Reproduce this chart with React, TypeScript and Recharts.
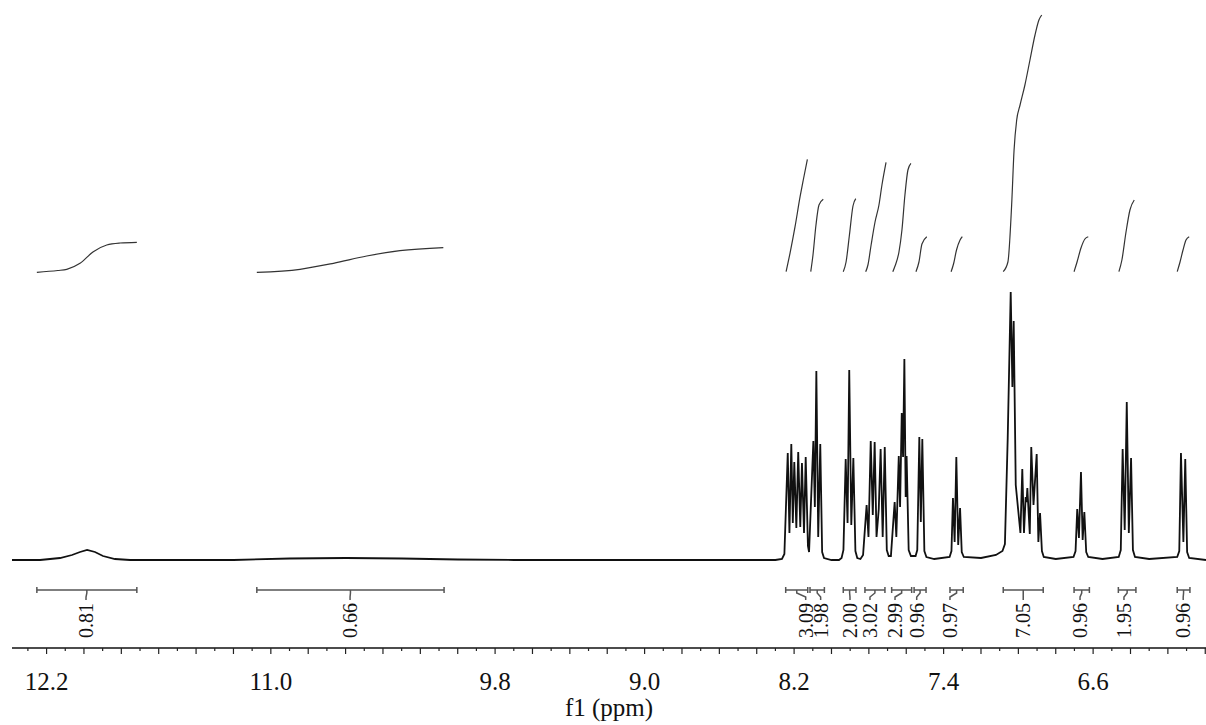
import React from 'react';
import { ComposedChart, Line, Scatter, XAxis, YAxis } from 'recharts';

const FONT = "'Liberation Serif', 'Times New Roman', serif";

// 1H NMR trace: [chemical shift (ppm), intensity]
const spectrum: [number, number][] = [
  [12.385, 0], [12.235, 0], [12.128, 2], [12.064, 5], [12.021, 8], [11.983, 10], [11.941, 8], [11.898, 4], [11.834, 1], [11.753, 0],
  [11.2, 0], [10.9, 1.5], [10.6, 2], [10.3, 1.5], [10.0, 0.5], [9.7, 0],
  [8.3, 0], [8.265, 1], [8.252, 6],
  [8.234, 107], [8.225, 27], [8.215, 116], [8.207, 37], [8.199, 98], [8.188, 32], [8.178, 108], [8.167, 33], [8.158, 97], [8.147, 27], [8.138, 103],
  [8.126, 14], [8.12, 8], [8.097, 119], [8.089, 53], [8.081, 189], [8.071, 23], [8.06, 116], [8.05, 8], [8.04, 2], [8.0, 0], [7.96, 0],
  [7.946, 2], [7.936, 10], [7.924, 101], [7.914, 37], [7.905, 190], [7.894, 35], [7.883, 102], [7.872, 9], [7.862, 2], [7.845, 1],
  [7.831, 5], [7.812, 55], [7.802, 23], [7.79, 119], [7.779, 45], [7.769, 118], [7.759, 23], [7.747, 51], [7.737, 111], [7.726, 23], [7.715, 113], [7.704, 10], [7.694, 4],
  [7.682, 4], [7.662, 58], [7.653, 23], [7.64, 104], [7.633, 53], [7.624, 147], [7.617, 103], [7.61, 201], [7.603, 63], [7.598, 104], [7.587, 10], [7.575, 4],
  [7.55, 4], [7.541, 10], [7.53, 123], [7.522, 38], [7.514, 121], [7.503, 9], [7.492, 3], [7.45, 1],
  [7.368, 3], [7.358, 9], [7.35, 62], [7.341, 18], [7.332, 103], [7.322, 15], [7.312, 52], [7.303, 8], [7.292, 3], [7.2, 2], [7.12, 5],
  [7.085, 9], [7.072, 16], [7.057, 122], [7.041, 268], [7.032, 173], [7.025, 239], [7.014, 75], [6.989, 27], [6.979, 91], [6.97, 27], [6.961, 63], [6.956, 58], [6.952, 72],
  [6.939, 26], [6.931, 113], [6.919, 55], [6.902, 106], [6.893, 18], [6.884, 47], [6.874, 9], [6.864, 3], [6.8, 1],
  [6.705, 3], [6.694, 9], [6.685, 51], [6.676, 22], [6.665, 88], [6.656, 20], [6.647, 48], [6.637, 8], [6.626, 3], [6.55, 1],
  [6.463, 3], [6.452, 10], [6.442, 111], [6.431, 30], [6.42, 158], [6.409, 27], [6.397, 102], [6.387, 10], [6.376, 3], [6.3, 1],
  [6.15, 3], [6.139, 9], [6.13, 107], [6.117, 18], [6.107, 101], [6.097, 8], [6.086, 2], [5.996, 0],
];

// integration regions (ppm), label positions (ppm) and values
const integralFrom = [12.252, 11.075, 8.245, 8.115, 7.937, 7.821, 7.678, 7.558, 7.366, 7.081, 6.702, 6.465, 6.15];
const integralTo = [11.717, 10.073, 8.127, 8.038, 7.869, 7.714, 7.571, 7.494, 7.295, 6.867, 6.62, 6.371, 6.082];
const integralLabelAt = [11.989, 10.576, 8.138, 8.058, 7.901, 7.794, 7.66, 7.544, 7.366, 6.974, 6.67, 6.435, 6.118];
const integralText = ['0.81', '0.66', '3.09', '1.98', '2.00', '3.02', '2.99', '0.96', '0.97', '7.05', '0.96', '1.95', '0.96'];

// running-integral traces: [ppm, level]
const integralCurves: [number, number][][] = [
  [[12.252, 287.7], [12.14, 289.5], [12.092, 290.7], [12.021, 296.7], [11.95, 308.3], [11.878, 315], [11.807, 317], [11.717, 317.7]],
  [[11.075, 287.7], [10.844, 290.7], [10.665, 296.7], [10.487, 304], [10.309, 309.3], [10.077, 312.3]],
  [[8.243, 288.3], [8.222, 306.7], [8.195, 333.3], [8.168, 363.3], [8.151, 380], [8.129, 400.7]],
  [[8.111, 288.3], [8.099, 305], [8.083, 335], [8.067, 355], [8.044, 360.7]],
  [[7.937, 288.3], [7.922, 298], [7.904, 325], [7.885, 354], [7.87, 361.3]],
  [[7.817, 288.3], [7.805, 295], [7.788, 315], [7.767, 338], [7.746, 355], [7.73, 375], [7.708, 397.7]],
  [[7.672, 288.3], [7.66, 294], [7.639, 308], [7.623, 330], [7.607, 365], [7.591, 390], [7.575, 396.7]],
  [[7.548, 288.3], [7.532, 298], [7.516, 316], [7.49, 323.3]],
  [[7.36, 288.3], [7.347, 296], [7.331, 310], [7.312, 320], [7.3, 323.3]],
  [[7.081, 288.3], [7.056, 298], [7.036, 355], [7.023, 410], [7.009, 440], [6.991, 455], [6.965, 475], [6.938, 500], [6.911, 525], [6.89, 540], [6.875, 545]],
  [[6.702, 288.3], [6.686, 298], [6.665, 312], [6.644, 321], [6.626, 323.3]],
  [[6.462, 288.3], [6.446, 300], [6.424, 328], [6.403, 350], [6.38, 360]],
  [[6.15, 288.3], [6.135, 298], [6.119, 310], [6.103, 320], [6.086, 323.3]],
];

const tickLabels = [12.2, 11.0, 9.8, 9.0, 8.2, 7.4, 6.6];
const axisTicks = Array.from({ length: 64 }, (_, i) => Math.round((6.0 + i * 0.1) * 10) / 10);

const BAR = -30;
const LABEL_TOP = -43;

type P = { ppm: number; v: number | null };

const spectrumData: P[] = spectrum.map(([ppm, v]) => ({ ppm, v }));

const curveData: P[] = [];
integralCurves.forEach((c) => {
  c.forEach(([ppm, v]) => curveData.push({ ppm, v }));
  curveData.push({ ppm: c[c.length - 1][0], v: null });
});

const bracketData: P[] = [];
integralFrom.forEach((from, i) => {
  const to = integralTo[i];
  const mid = (from + to) / 2;
  const lab = integralLabelAt[i];
  bracketData.push(
    { ppm: from, v: BAR + 3 }, { ppm: from, v: BAR - 3 }, { ppm: from, v: null },
    { ppm: from, v: BAR }, { ppm: to, v: BAR }, { ppm: to, v: null },
    { ppm: to, v: BAR + 3 }, { ppm: to, v: BAR - 3 }, { ppm: to, v: null },
    { ppm: mid, v: BAR }, { ppm: mid, v: BAR - 3 }, { ppm: lab, v: BAR - 7 }, { ppm: lab, v: BAR - 10 }, { ppm: lab, v: null },
  );
});

const labelData = integralText.map((text, i) => ({ ppm: integralLabelAt[i], v: LABEL_TOP, text }));

const AxisTick = (props: any) => {
  const { x, y, payload } = props;
  const val = payload.value as number;
  const tenth = Math.round(val * 10);
  const major = tenth % 2 === 0;
  const lab = tickLabels.find((t) => Math.abs(t - val) < 1e-6);
  return (
    <g>
      <line x1={x} x2={x} y1={y} y2={y + (major ? 6 : 3)} stroke="#222" strokeWidth={1.2} />
      {lab !== undefined && (
        <text x={x} y={y + 42} textAnchor="middle" fontSize={25} fontFamily={FONT} fill="#111">
          {lab.toFixed(1)}
        </text>
      )}
    </g>
  );
};

const IntegralLabel = (props: any) => {
  const { cx, cy, payload } = props;
  if (cx == null || cy == null) return <g />;
  return (
    <text
      x={cx}
      y={cy}
      transform={`rotate(-90 ${cx} ${cy})`}
      textAnchor="end"
      dominantBaseline="central"
      fontSize={20}
      fontFamily={FONT}
      fill="#111"
    >
      {payload.text}
    </text>
  );
};

export default function App() {
  return (
    <div style={{ position: 'absolute', left: 0, top: 0, width: 1206, height: 725, background: '#fff' }}>
      <ComposedChart width={1206} height={725} margin={{ top: 5, right: 0, bottom: 0, left: 12 }}>
        <XAxis
          dataKey="ppm"
          type="number"
          domain={[5.996, 12.385]}
          reversed
          allowDataOverflow
          ticks={axisTicks}
          interval={0}
          tick={(p: any) => <AxisTick {...p} />}
          tickLine={false}
          tickSize={0}
          tickMargin={0}
          height={77}
          axisLine={{ stroke: '#111', strokeWidth: 1.5 }}
          label={{ value: 'f1 (ppm)', position: 'insideBottom', offset: 9, fontSize: 25, fill: '#111', fontFamily: FONT }}
        />
        <YAxis dataKey="v" type="number" domain={[-88, 555]} hide allowDataOverflow />
        <Line data={curveData} dataKey="v" type="monotone" stroke="#333" strokeWidth={1.2} dot={false} isAnimationActive={false} />
        <Line data={bracketData} dataKey="v" type="linear" stroke="#555" strokeWidth={1.5} dot={false} isAnimationActive={false} />
        <Line data={spectrumData} dataKey="v" type="linear" stroke="#111" strokeWidth={1.8} dot={false} isAnimationActive={false} />
        <Scatter data={labelData} dataKey="v" shape={(p: any) => <IntegralLabel {...p} />} isAnimationActive={false} />
      </ComposedChart>
    </div>
  );
}
